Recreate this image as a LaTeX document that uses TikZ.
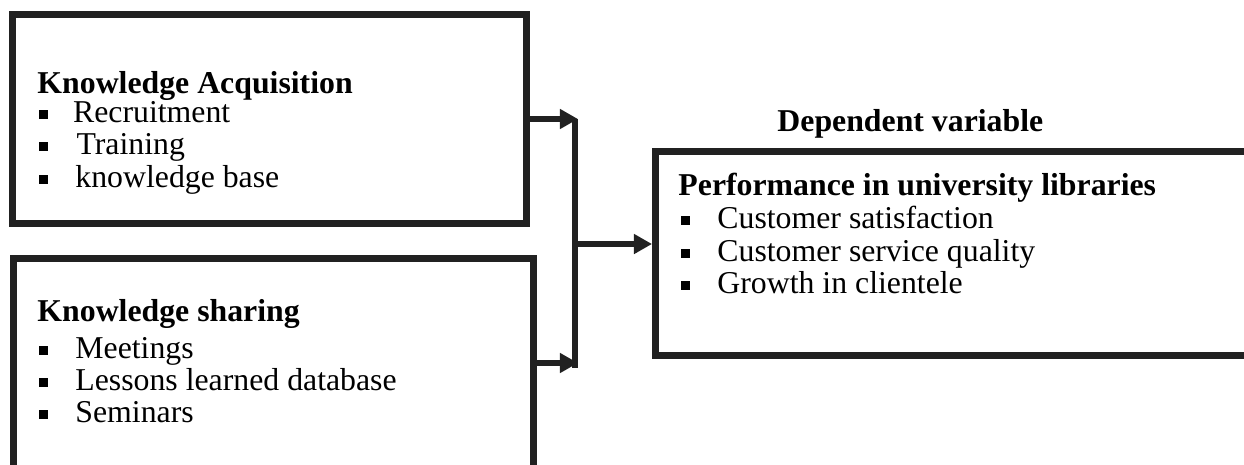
\documentclass[tikz,border=0pt]{standalone}
\usepackage{fontspec}
\setmainfont{Liberation Serif}
\usetikzlibrary{arrows.meta}
\newcommand\sqbul{\rule[1.3pt]{3.8pt}{3.8pt}}
\begin{document}
\begin{tikzpicture}[x=0.431pt,y=-0.431pt,
  frame/.style={draw=black!87,line width=3pt,rectangle,inner sep=0pt},
  conn/.style={draw=black!87,line width=2.6pt},
  arr/.style={conn,-{Triangle[length=7.8pt,width=8.2pt]}},
  head/.style={anchor=base west,inner sep=0pt,font=\fontsize{13.7}{16}\selectfont\bfseries},
  itemtxt/.style={anchor=base west,inner sep=0pt,font=\fontsize{13.7}{16}\selectfont}]
\useasboundingbox (0,0) rectangle (1244,464);
\clip (0,0) rectangle (1244,464);
% boxes
\node[frame,minimum width=514*0.431pt,minimum height=209*0.431pt] (A) at (269.5,119) {};
\node[frame,minimum width=520*0.431pt,minimum height=242*0.431pt] (B) at (273.5,379.5) {};
\node[frame,minimum width=615*0.431pt,minimum height=204*0.431pt] (C) at (963,253.5) {};
% box A text
\node[head] (ah) at (37,93) {Knowledge Acquisition};
\node[itemtxt] (a1) at (39,122) {\makebox[14.5pt][l]{\sqbul}Recruitment};
\node[itemtxt] (a2) at (39,154) {\makebox[16pt][l]{\sqbul}Training};
\node[itemtxt] (a3) at (39,187) {\makebox[15.5pt][l]{\sqbul}knowledge base};
% box B text
\node[head] (bh) at (37,321) {Knowledge sharing};
\node[itemtxt] (b1) at (39,358) {\makebox[15.5pt][l]{\sqbul}Meetings};
\node[itemtxt] (b2) at (39,390) {\makebox[15.5pt][l]{\sqbul}Lessons learned database};
\node[itemtxt] (b3) at (39,422) {\makebox[15.5pt][l]{\sqbul}Seminars};
% box C text
\node[head] (dv) at (777,131) {Dependent variable};
\node[head] (ch) at (678,195) {Performance in university libraries};
\node[itemtxt] (c1) at (681,228) {\makebox[15.5pt][l]{\sqbul}Customer satisfaction};
\node[itemtxt] (c2) at (681,261) {\makebox[15.5pt][l]{\sqbul}Customer service quality};
\node[itemtxt] (c3) at (681,293) {\makebox[15.5pt][l]{\sqbul}Growth in clientele};
% junction
\coordinate (jt) at (575,119);
\coordinate (jb) at (575,368);
\coordinate (jm) at (575,244);
\coordinate (tt) at (578,119);
\coordinate (tb) at (578,363);
\draw[conn] (jt) -- (jb);
\draw[arr] (A.east) -- (tt);
\draw[arr] (B.east |- tb) -- (tb);
\draw[arr] (jm) -- (C.west |- jm);
\end{tikzpicture}
\end{document}
